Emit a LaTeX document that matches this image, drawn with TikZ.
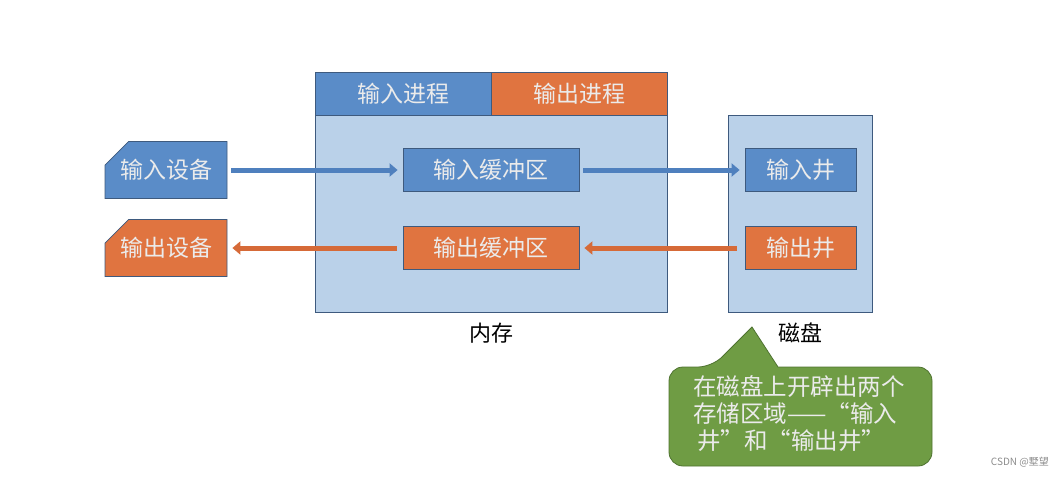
\documentclass[tikz,border=0pt]{standalone}
\usepackage{fontspec}
\setmainfont{Noto Sans CJK SC}
\usetikzlibrary{shapes.misc,arrows.meta}
\definecolor{cblue}{HTML}{5A8CC8}
\definecolor{corange}{HTML}{E07440}
\definecolor{clight}{HTML}{BAD1E9}
\definecolor{cborder}{HTML}{3E5A7E}
\definecolor{cgreen}{HTML}{6F9C44}
\definecolor{cgreenb}{HTML}{4E7230}
\definecolor{ablue}{HTML}{4F80BE}
\definecolor{aorange}{HTML}{D66A38}
\begin{document}
\begin{tikzpicture}[x=1pt,y=-1pt,
  txt/.style={font=\fontsize{23}{26}\selectfont, text=white!92!black, inner sep=0pt},
  box/.style={txt, draw=cborder, line width=0.8pt, minimum width=176pt, minimum height=43pt},
  wbox/.style={box, minimum width=111pt},
  dev/.style={txt, chamfered rectangle, chamfered rectangle corners=north west,
     chamfered rectangle xsep=23pt, chamfered rectangle ysep=13pt,
     draw=cborder, line width=0.8pt, minimum width=122pt, minimum height=57pt},
  area/.style={fill=clight, draw=cborder, line width=0.8pt},
  flow/.style={line width=5pt, -{Triangle[width=13pt,length=8pt]}, shorten <=4pt, shorten >=5pt},
  lab/.style={font=\fontsize{22}{24}\selectfont, text=black, inner sep=0pt}]
\useasboundingbox (0,0) rectangle (1063,477);
% memory
\draw[area] (315,72) rectangle (667,312);
\node[txt, fill=cblue, draw=cborder, line width=0.8pt, minimum width=176pt, minimum height=43pt, anchor=north west] (inproc) at (315,72) {输入进程};
\node[txt, fill=corange, draw=cborder, line width=0.8pt, minimum width=176pt, minimum height=43pt, anchor=north west] (outproc) at (491,72) {输出进程};
\node[box, fill=cblue] (inbuf) at (491,170) {输入缓冲区};
\node[box, fill=corange] (outbuf) at (491,248) {输出缓冲区};
\node[lab] (mem) at (491,333) {内存};
% disk
\draw[area] (728,115) rectangle (872,312);
\node[wbox, fill=cblue] (inwell) at (800.5,170) {输入井};
\node[wbox, fill=corange] (outwell) at (800.5,248) {输出井};
\node[lab] (disk) at (800,333) {磁盘};
% devices
\node[dev, fill=cblue] (indev) at (166,170) {输入设备};
\node[dev, fill=corange] (outdev) at (166,248) {输出设备};
% arrows
\draw[flow, ablue] (indev.east) -- (inbuf.west);
\draw[flow, ablue] (inbuf.east) -- (inwell.west);
\draw[flow, aorange, shorten <=8pt] (outwell.west) -- (outbuf.east);
\draw[flow, aorange, shorten <=6pt] (outbuf.west) -- (outdev.east);
% callout
\draw[fill=cgreen, draw=cgreenb, line width=0.8pt]
  (669,417) [rounded corners=14pt] -- (669,367) -- (712,367) [sharp corners] -- (752,327) -- (778,367)
  [rounded corners=14pt] -- (932,367) -- (932,466) -- (669,466) -- cycle;
\node[font=\fontsize{23.5}{27}\selectfont, text=white!92!black, align=left, inner sep=0pt, anchor=north west] (note) at (693,375)
  {在磁盘上开辟出两个\\存储区域——“输入\\\,井”和“输出井”};
% watermark
\node[font=\fontsize{10}{12}\selectfont, text=black!45, inner sep=0pt, anchor=east] (wm) at (1049,462) {CSDN @墅望};
\end{tikzpicture}
\end{document}
